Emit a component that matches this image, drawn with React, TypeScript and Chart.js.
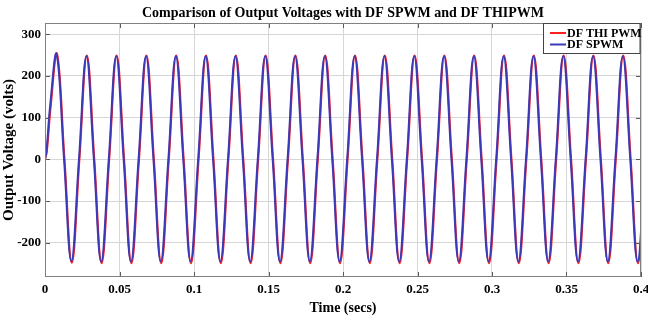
import React, { useEffect, useRef } from "react";
import { Chart, registerables } from "chart.js";

Chart.register(...registerables);

const chartTitle = "Comparison of Output Voltages with DF SPWM and DF THIPWM";
const xLabel = "Time (secs)";
const yLabel = "Output Voltage (volts)";
const seriesNames = ["DF THI PWM", "DF SPWM"];
const seriesColors = ["#ff1f1f", "#3a3ab8"];
const xTicks = [0, 0.05, 0.1, 0.15, 0.2, 0.25, 0.3, 0.35, 0.4];
const yTicks = [-200, -100, 0, 100, 200, 300];
const xRange = [0, 0.4];
const yRange = [-282, 327];

// DF SPWM (blue): start-up points, then peak / zero / trough / zero of every cycle
const spwmTime = [
  0, 0.001, 0.0035,
  0.0078, 0.0128, 0.0177, 0.0228,
  0.0278, 0.0328, 0.0377, 0.0428,
  0.0478, 0.0528, 0.0577, 0.0628,
  0.0678, 0.0728, 0.0777, 0.0828,
  0.0878, 0.0928, 0.0977, 0.1028,
  0.1078, 0.1128, 0.1177, 0.1228,
  0.1278, 0.1328, 0.1377, 0.1428,
  0.1478, 0.1528, 0.1577, 0.1628,
  0.1678, 0.1728, 0.1777, 0.1828,
  0.1878, 0.1928, 0.1977, 0.2028,
  0.2078, 0.2128, 0.2177, 0.2228,
  0.2278, 0.2328, 0.2377, 0.2428,
  0.2478, 0.2528, 0.2577, 0.2628,
  0.2678, 0.2728, 0.2777, 0.2828,
  0.2878, 0.2928, 0.2977, 0.3028,
  0.3078, 0.3128, 0.3177, 0.3228,
  0.3278, 0.3328, 0.3377, 0.3428,
  0.3478, 0.3528, 0.3577, 0.3628,
  0.3678, 0.3728, 0.3777, 0.3828,
  0.3878, 0.3928, 0.3977, 0.4028,
];
const spwmVolt = [
  0, 20, 130,
  252, 0, -244, 0,
  247, 0, -245, 0,
  247, 0, -245, 0,
  247, 0, -245, 0,
  247, 0, -245, 0,
  247, 0, -245, 0,
  247, 0, -245, 0,
  247, 0, -245, 0,
  247, 0, -245, 0,
  247, 0, -245, 0,
  247, 0, -245, 0,
  247, 0, -245, 0,
  247, 0, -245, 0,
  247, 0, -245, 0,
  247, 0, -245, 0,
  247, 0, -245, 0,
  247, 0, -245, 0,
  247, 0, -245, 0,
  247, 0, -245, 0,
  247, 0, -245, 0,
];

// DF THI PWM (red)
const thiTime = [
  0, 0.0012, 0.0038,
  0.0081, 0.0131, 0.018, 0.0231,
  0.0281, 0.0331, 0.038, 0.0431,
  0.0481, 0.0531, 0.058, 0.0631,
  0.0681, 0.0731, 0.078, 0.0831,
  0.0881, 0.0931, 0.098, 0.1031,
  0.1081, 0.1131, 0.118, 0.1231,
  0.1281, 0.1331, 0.138, 0.1431,
  0.1481, 0.1531, 0.158, 0.1631,
  0.1681, 0.1731, 0.178, 0.1831,
  0.1881, 0.1931, 0.198, 0.2031,
  0.2081, 0.2131, 0.218, 0.2231,
  0.2281, 0.2331, 0.238, 0.2431,
  0.2481, 0.2531, 0.258, 0.2631,
  0.2681, 0.2731, 0.278, 0.2831,
  0.2881, 0.2931, 0.298, 0.3031,
  0.3081, 0.3131, 0.318, 0.3231,
  0.3281, 0.3331, 0.338, 0.3431,
  0.3481, 0.3531, 0.358, 0.3631,
  0.3681, 0.3731, 0.378, 0.3831,
  0.3881, 0.3931, 0.398, 0.4031,
];
const thiVolt = [
  0, 18, 126,
  253, 0, -248, 0,
  249, 0, -249, 0,
  249, 0, -249, 0,
  249, 0, -249, 0,
  249, 0, -249, 0,
  249, 0, -249, 0,
  249, 0, -249, 0,
  249, 0, -249, 0,
  249, 0, -249, 0,
  249, 0, -249, 0,
  249, 0, -249, 0,
  249, 0, -249, 0,
  249, 0, -249, 0,
  249, 0, -249, 0,
  249, 0, -249, 0,
  249, 0, -249, 0,
  249, 0, -249, 0,
  249, 0, -249, 0,
  249, 0, -249, 0,
  249, 0, -249, 0,
];

const FONT = "'Liberation Serif', 'Times New Roman', serif";

const framePlugin = {
  id: "matlabFrame",
  afterDraw(chart: any) {
    const { ctx, chartArea: a, scales } = chart;
    ctx.save();
    // inward tick marks
    ctx.strokeStyle = "#5a5a5a";
    ctx.lineWidth = 1;
    ctx.beginPath();
    for (const v of xTicks) {
      const x = Math.round(scales.x.getPixelForValue(v)) + 0.5;
      ctx.moveTo(x, a.bottom);
      ctx.lineTo(x, a.bottom - 5);
      ctx.moveTo(x, a.top);
      ctx.lineTo(x, a.top + 5);
    }
    for (const v of yTicks) {
      const y = Math.round(scales.y.getPixelForValue(v)) + 0.5;
      ctx.moveTo(a.left, y);
      ctx.lineTo(a.left + 5, y);
      ctx.moveTo(a.right, y);
      ctx.lineTo(a.right - 5, y);
    }
    ctx.stroke();
    // axes box
    ctx.strokeStyle = "#808080";
    ctx.strokeRect(
      Math.round(a.left) + 0.5,
      Math.round(a.top) + 0.5,
      Math.round(a.right - a.left) - 1,
      Math.round(a.bottom - a.top) - 1
    );
    // title centred on the plot area
    ctx.fillStyle = "#000";
    ctx.font = `bold 14px ${FONT}`;
    ctx.textAlign = "center";
    ctx.textBaseline = "alphabetic";
    ctx.fillText(chartTitle, (a.left + a.right) / 2, 16.5);
    // legend inside top-right
    const lx = 543.5;
    const ly = Math.round(a.top) + 0.5;
    const lw = Math.round(a.right) - 1 - lx;
    const lh = 30;
    ctx.fillStyle = "#ffffff";
    ctx.fillRect(lx, ly, lw, lh);
    ctx.strokeStyle = "#444";
    ctx.lineWidth = 1;
    ctx.strokeRect(lx, ly, lw, lh);
    ctx.font = `bold 12px ${FONT}`;
    ctx.textAlign = "left";
    ctx.textBaseline = "middle";
    seriesNames.forEach((name, i) => {
      const y = ly + 9.5 + i * 11.5;
      ctx.strokeStyle = seriesColors[i];
      ctx.lineWidth = 2;
      ctx.beginPath();
      ctx.moveTo(550, y);
      ctx.lineTo(566, y);
      ctx.stroke();
      ctx.fillStyle = "#000";
      ctx.fillText(name, 567, y + 0.5);
    });
    ctx.restore();
  },
};

export default function App() {
  const canvasRef = useRef<HTMLCanvasElement | null>(null);

  useEffect(() => {
    const canvas = canvasRef.current;
    if (!canvas) return;
    const thiData = thiTime.map((t, i) => ({ x: t, y: thiVolt[i] }));
    const spwmData = spwmTime.map((t, i) => ({ x: t, y: spwmVolt[i] }));

    const tickFont = { family: FONT, size: 13, weight: "bold" as const };

    const chart = new Chart(canvas, {
      type: "line",
      data: {
        datasets: [
          {
            label: seriesNames[0],
            data: thiData,
            borderColor: seriesColors[0],
            borderWidth: 2,
            pointRadius: 0,
            tension: 0.4,
            fill: false,
            clip: 0,
            order: 2,
          },
          {
            label: seriesNames[1],
            data: spwmData,
            borderColor: seriesColors[1],
            borderWidth: 2,
            pointRadius: 0,
            tension: 0.4,
            fill: false,
            clip: 0,
            order: 1,
          },
        ],
      },
      options: {
        animation: false,
        responsive: false,
        devicePixelRatio: 1,
        parsing: false,
        normalized: true,
        layout: { padding: { top: 23, right: 7, left: 0, bottom: 0 } },
        plugins: {
          legend: { display: false },
          tooltip: { enabled: false },
          title: { display: false },
        },
        scales: {
          x: {
            type: "linear",
            min: xRange[0],
            max: xRange[1],
            afterBuildTicks: (s: any) => {
              s.ticks = xTicks.map((v) => ({ value: v }));
            },
            afterFit: (s: any) => {
              s.height = 44;
              s.paddingLeft = 0;
              s.paddingRight = 0;
            },
            ticks: {
              font: tickFont,
              color: "#000",
              padding: 5,
              maxRotation: 0,
              autoSkip: false,
              callback: (v: any) => String(v),
            },
            grid: { color: "#d6d6d6", lineWidth: 1, drawTicks: false },
            border: { display: false },
            title: {
              display: true,
              text: xLabel,
              color: "#000",
              font: { family: FONT, size: 14, weight: "bold" },
              padding: { top: 0, bottom: 4.6 },
            },
          },
          y: {
            type: "linear",
            min: yRange[0],
            max: yRange[1],
            afterBuildTicks: (s: any) => {
              s.ticks = yTicks.map((v) => ({ value: v }));
            },
            afterFit: (s: any) => {
              s.width = 45;
              s.paddingTop = 0;
              s.paddingBottom = 0;
            },
            ticks: {
              font: tickFont,
              color: "#000",
              padding: 4,
              callback: (v: any) => String(v),
            },
            grid: { color: "#d6d6d6", lineWidth: 1, drawTicks: false },
            border: { display: false },
            title: {
              display: true,
              text: yLabel,
              color: "#000",
              font: { family: FONT, size: 15, weight: "bold" },
              padding: { top: 0, bottom: 0 },
            },
          },
        },
      },
      plugins: [framePlugin],
    });

    return () => chart.destroy();
  }, []);

  return (
    <div style={{ position: "absolute", left: 0, top: 0, width: 648, height: 321, background: "#fff" }}>
      <canvas ref={canvasRef} width={648} height={321} style={{ display: "block", width: 648, height: 321 }} />
    </div>
  );
}
